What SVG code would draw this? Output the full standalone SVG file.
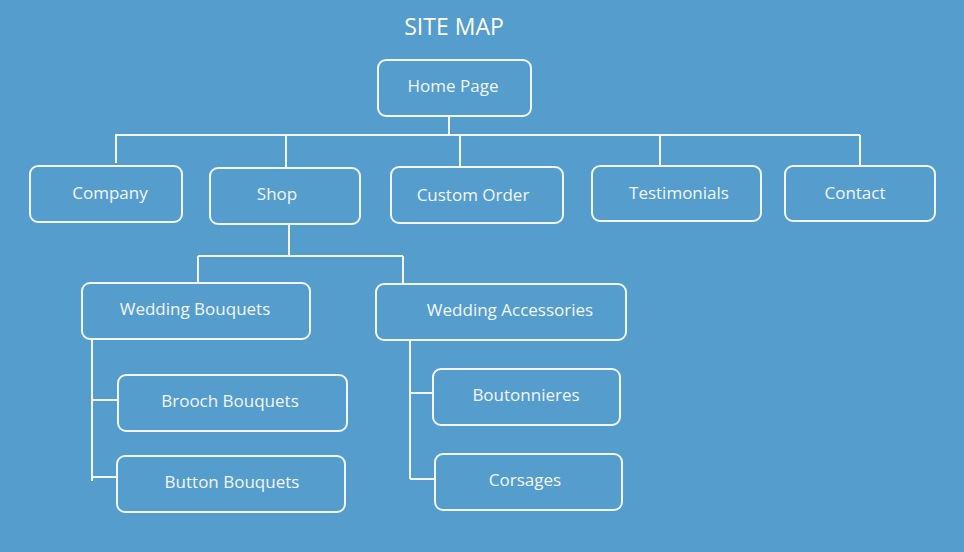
<svg xmlns="http://www.w3.org/2000/svg" width="964" height="552" viewBox="0 0 964 552">
  <style>
    .bg { fill: #559dcd; }
    .box { fill: none; stroke: #f2f6fa; stroke-width: 2; }
    .lbl { fill: #f2f6fa; font-family: "Open Sans", "Liberation Sans", sans-serif; font-size: 17px; text-anchor: middle; }
    .title { fill: #ffffff; font-family: "Open Sans", "Liberation Sans", sans-serif; font-size: 23px; text-anchor: middle; }
    .wire { fill: none; stroke: #f2f6fa; stroke-width: 2; }
  </style>
  <rect class="bg" x="0" y="0" width="964" height="552"/>
  <text class="title" x="454" y="35">SITE MAP</text>

  <g id="connectors">
    <path class="wire" d="M449 116 V135 M115 135 H860 M116 135 V163 M286 135 V168 M460 135 V167 M660 135 V166 M860 135 V166"/>
    <path class="wire" d="M289 224 V256 M198 256 H403 M198 256 V283 M403 256 V284"/>
    <path class="wire" d="M92 339 V481 M92 400 H118 M92 477 H117"/>
    <path class="wire" d="M410 340 V479 M410 393 H433 M410 479 H435"/>
  </g>

  <g id="home"><rect class="box" x="378" y="60" width="153" height="56" rx="8"/><text class="lbl" x="453" y="92">Home Page</text></g>
  <g id="company"><rect class="box" x="30" y="166" width="152" height="56" rx="8"/><text class="lbl" x="110" y="199">Company</text></g>
  <g id="shop"><rect class="box" x="210" y="168" width="150" height="56" rx="8"/><text class="lbl" x="277" y="200">Shop</text></g>
  <g id="custom-order"><rect class="box" x="391" y="167" width="172" height="56" rx="8"/><text class="lbl" x="473" y="201">Custom Order</text></g>
  <g id="testimonials"><rect class="box" x="592" y="166" width="169" height="55" rx="8"/><text class="lbl" x="679" y="199">Testimonials</text></g>
  <g id="contact"><rect class="box" x="785" y="166" width="150" height="55" rx="8"/><text class="lbl" x="855" y="199">Contact</text></g>
  <g id="wedding-bouquets"><rect class="box" x="82" y="283" width="228" height="56" rx="8"/><text class="lbl" x="195" y="315">Wedding Bouquets</text></g>
  <g id="wedding-accessories"><rect class="box" x="376" y="284" width="250" height="56" rx="8"/><text class="lbl" x="510" y="316">Wedding Accessories</text></g>
  <g id="brooch-bouquets"><rect class="box" x="118" y="375" width="229" height="56" rx="8"/><text class="lbl" x="230" y="407">Brooch Bouquets</text></g>
  <g id="button-bouquets"><rect class="box" x="117" y="456" width="228" height="56" rx="8"/><text class="lbl" x="232" y="488">Button Bouquets</text></g>
  <g id="boutonnieres"><rect class="box" x="433" y="369" width="187" height="56" rx="8"/><text class="lbl" x="526" y="401">Boutonnieres</text></g>
  <g id="corsages"><rect class="box" x="435" y="454" width="187" height="56" rx="8"/><text class="lbl" x="525" y="486">Corsages</text></g>
</svg>
